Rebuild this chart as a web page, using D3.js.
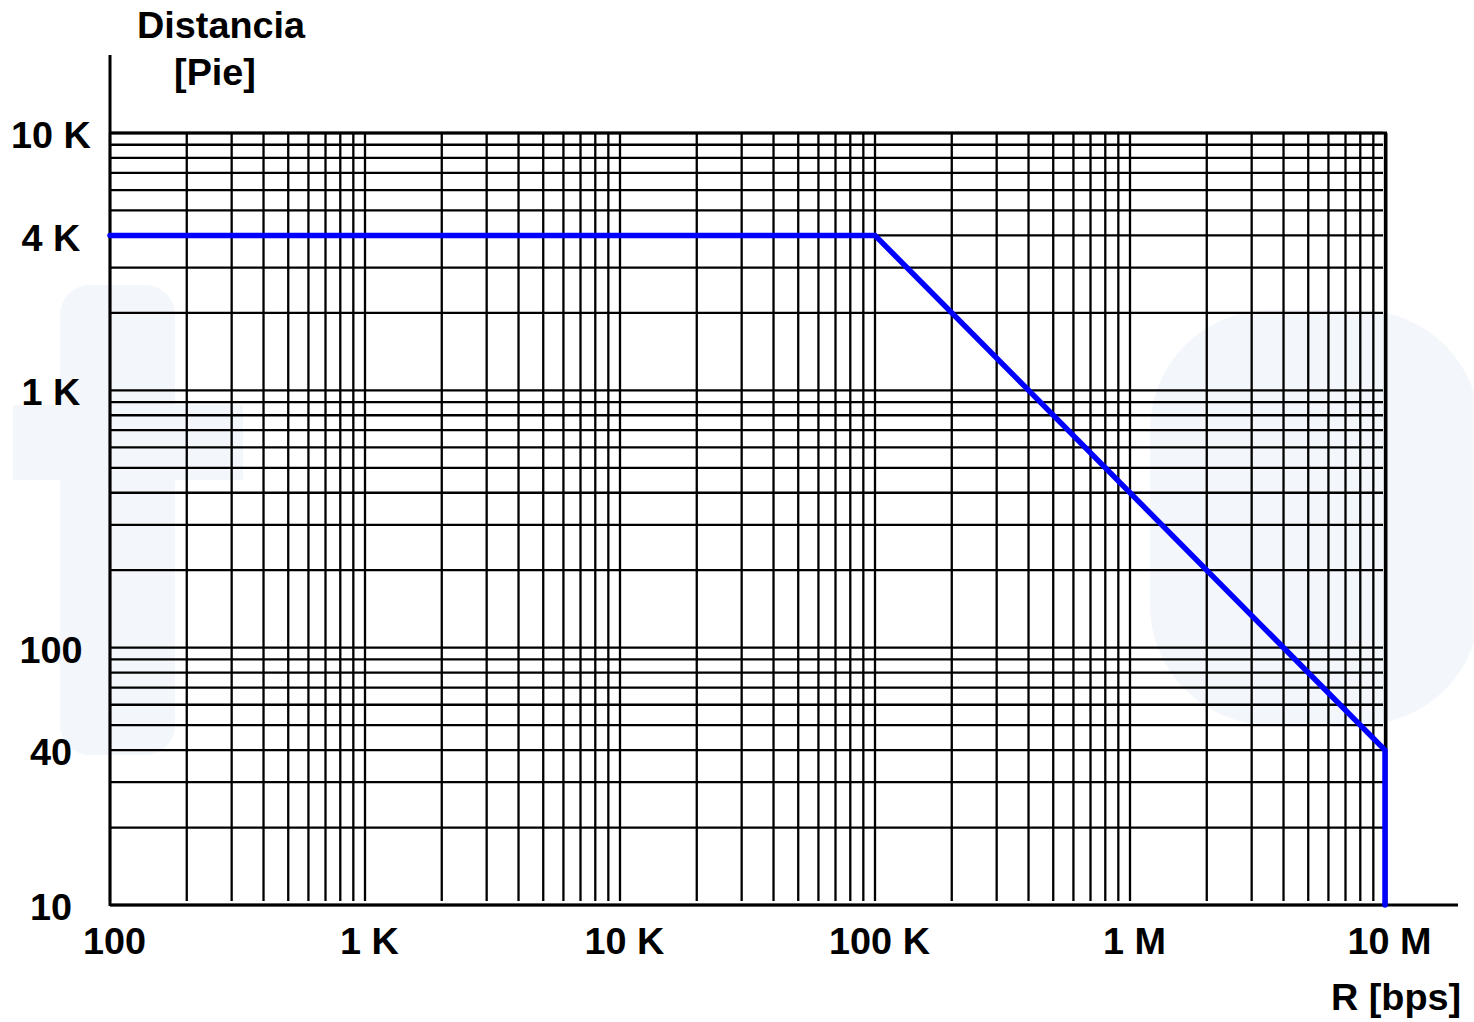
<!DOCTYPE html>
<html>
<head>
<meta charset="utf-8">
<script src="https://cdn.jsdelivr.net/npm/d3@7"></script>
<style>
  html, body { margin: 0; padding: 0; background: #fff; }
  svg { display: block; font-family: "Liberation Sans", Arial, sans-serif; font-weight: bold; }
</style>
</head>
<body>
<svg id="chart" width="1474" height="1022"></svg>
<script>
// DATA
const rate = [100, 100000, 10000000, 10000000]; // R [bps]
const dist = [4000, 4000, 40, 10];              // Distancia [Pie]
const xTicks = [100, 1e3, 1e4, 1e5, 1e6, 1e7];
const xLabels = ['100', '1 K', '10 K', '100 K', '1 M', '10 M'];
const yTicks = [10, 40, 100, 1000, 4000, 10000];
const yLabels = ['10', '40', '100', '1 K', '4 K', '10 K'];

const svg = d3.select('#chart');
const STRETCH = 'scale(1.05,1)';
const FS = '36px';

// SCALES
const x = d3.scaleLog().domain([100, 1e7]).range([110, 1385]);
const y = d3.scaleLog().domain([10, 1e4]).range([905, 133]);

// FAINT WATERMARK
const wm = svg.append('g').attr('fill', '#f3f6fa').attr('stroke', 'none');
wm.append('rect').attr('x', 60).attr('y', 285).attr('width', 115).attr('height', 470).attr('rx', 30);
wm.append('rect').attr('x', 13).attr('y', 405).attr('width', 230).attr('height', 75);
wm.append('rect').attr('x', 1150).attr('y', 310).attr('width', 330).attr('height', 415).attr('rx', 120);

// GRID
const grid = svg.append('g').attr('stroke', '#000').attr('stroke-width', 2.3);

grid.selectAll('.gx')
  .data(x.ticks())
  .enter()
  .append('line')
  .attr('x1', (d) => x(d))
  .attr('x2', (d) => x(d))
  .attr('y1', y(1e4))
  .attr('y2', y(10) - 4);

grid.selectAll('.gy')
  .data(y.ticks())
  .enter()
  .append('line')
  .attr('x1', x(100))
  .attr('x2', x(1e7) - 2)
  .attr('y1', (d) => y(d))
  .attr('y2', (d) => y(d));

// BORDERS
svg.append('line')
  .attr('x1', x(1e7) + 1).attr('x2', x(1e7) + 1)
  .attr('y1', y(1e4)).attr('y2', y(10))
  .attr('stroke', '#000').attr('stroke-width', 3);
svg.append('line')
  .attr('x1', x(100)).attr('x2', x(1e7) + 2)
  .attr('y1', y(1e4)).attr('y2', y(1e4))
  .attr('stroke', '#000').attr('stroke-width', 3);

// AXES LINES
svg.append('line')
  .attr('x1', x(100)).attr('x2', x(100))
  .attr('y1', 55).attr('y2', y(10) + 1)
  .attr('stroke', '#000').attr('stroke-width', 3);
svg.append('line')
  .attr('x1', x(100)).attr('x2', 1458)
  .attr('y1', y(10)).attr('y2', y(10))
  .attr('stroke', '#000').attr('stroke-width', 3);

// X AXIS LABELS
const gx = svg.append('g')
  .attr('transform', `translate(0,${y(10)})`)
  .call(d3.axisBottom(x).tickValues(xTicks).tickFormat((d, i) => xLabels[i]).tickSize(0));
gx.select('.domain').remove();
gx.selectAll('text')
  .attr('y', 0).attr('dy', null)
  .attr('transform', `translate(4,49) ${STRETCH}`)
  .attr('fill', '#000')
  .style('font-size', FS)
  .style('font-family', '"Liberation Sans", Arial, sans-serif')
  .style('font-weight', 'bold');

// Y AXIS LABELS
const gy = svg.append('g')
  .attr('transform', `translate(${x(100)},0)`)
  .call(d3.axisLeft(y).tickValues(yTicks).tickFormat((d, i) => yLabels[i]).tickSize(0));
gy.select('.domain').remove();
gy.selectAll('text')
  .attr('x', 0).attr('dy', '0.35em')
  .attr('text-anchor', 'middle')
  .attr('transform', `translate(-59,2) ${STRETCH}`)
  .attr('fill', '#000')
  .style('font-size', FS)
  .style('font-family', '"Liberation Sans", Arial, sans-serif')
  .style('font-weight', 'bold');

// SERIES
const pts = rate.map((r, i) => [r, dist[i]]);
const line = d3.line().x((d) => x(d[0])).y((d) => y(d[1]));
svg.append('path')
  .datum(pts)
  .attr('fill', 'none')
  .attr('stroke', '#0000ff')
  .attr('stroke-width', 5.5)
  .attr('stroke-linecap', 'round')
  .attr('d', line);

// TITLES
const title = (txt, tx, ty) =>
  svg.append('text')
    .attr('transform', `translate(${tx},${ty}) ${STRETCH}`)
    .attr('text-anchor', 'middle')
    .style('font-size', FS)
    .attr('fill', '#000')
    .text(txt);

title('Distancia', 221, 38);
title('[Pie]', 215, 85);
title('R [bps]', 1396, 1010);
</script>
</body>
</html>
